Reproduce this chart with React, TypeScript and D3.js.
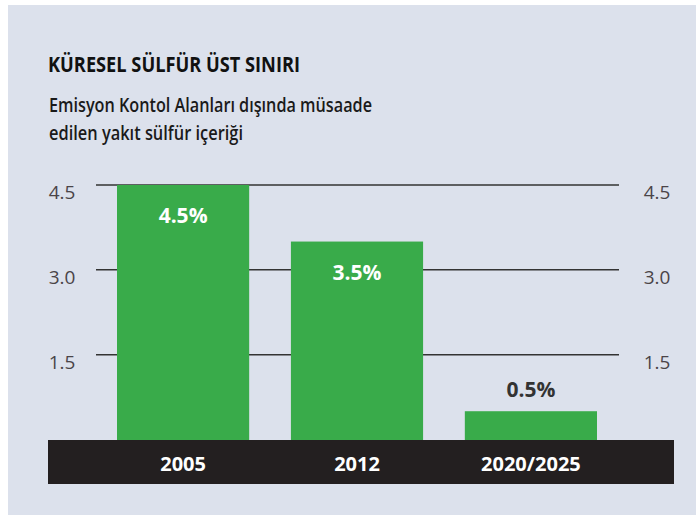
import React from "react";
import * as d3 from "d3";

const categories = ["2005", "2012", "2020/2025"];
const values = [4.5, 3.5, 0.5];
const valueLabels = ["4.5%", "3.5%", "0.5%"];
const ticks = [1.5, 3.0, 4.5];
const titleText = "KÜRESEL SÜLFÜR ÜST SINIRI";
const subtitleLines = ["Emisyon Kontol Alanları dışında müsaade", "edilen yakıt sülfür içeriği"];

const W = 696;
const H = 515;
const GREEN = "#39ab4a";
const BG = "#dce1ec";
const FONT = "'Open Sans', 'DejaVu Sans', sans-serif";

export default function App() {
  const x = d3.scaleBand<string>().domain(categories).range([117, 597]).paddingInner(0.24).paddingOuter(0);
  const y = d3.scaleLinear().domain([0, 4.5]).range([439.5, 185]);
  const bw = x.bandwidth();

  return (
    <svg width={W} height={H} style={{ position: "fixed", left: 0, top: 0 }} fontFamily={FONT}>
      <rect x={0} y={0} width={W} height={H} fill="#ffffff" />
      <rect x={8} y={5} width={W - 8} height={H - 5} fill={BG} />

      <text x={48} y={72} fontSize={22} fontWeight={700} fill="#111" textLength={252} lengthAdjust="spacingAndGlyphs">
        {titleText}
      </text>
      <text x={49} y={112} fontSize={20} fontWeight={600} fill="#1a1a1a" textLength={323} lengthAdjust="spacingAndGlyphs">
        {subtitleLines[0]}
      </text>
      <text x={49} y={140} fontSize={20} fontWeight={600} fill="#1a1a1a" textLength={194} lengthAdjust="spacingAndGlyphs">
        {subtitleLines[1]}
      </text>

      {ticks.map((t) => (
        <g key={t}>
          <line x1={96} x2={619} y1={y(t)} y2={y(t)} stroke="#333" strokeWidth={1.5} />
          <text x={62} y={y(t) + 14} fontSize={19} fill="#4a4448" textAnchor="middle">
            {d3.format(".1f")(t)}
          </text>
          <text x={657} y={y(t) + 14} fontSize={19} fill="#4a4448" textAnchor="middle">
            {d3.format(".1f")(t)}
          </text>
        </g>
      ))}

      {categories.map((c, i) => {
        const x0 = x(c)!;
        const top = y(values[i]);
        const inside = values[i] > 1;
        return (
          <g key={c}>
            <rect x={x0} y={top} width={bw} height={y(0) - top + 1} fill={GREEN} />
            <text
              x={x0 + bw / 2}
              y={inside ? top + 38 : top - 14}
              fontSize={21}
              fontWeight={700}
              fill={inside ? "#ffffff" : "#333333"}
              textAnchor="middle"
            >
              {valueLabels[i]}
            </text>
          </g>
        );
      })}

      <rect x={48} y={440} width={626} height={44} fill="#231f20" />
      {categories.map((c) => (
        <text key={c} x={x(c)! + bw / 2} y={471} fontSize={20} fontWeight={700} fill="#ffffff" textAnchor="middle">
          {c}
        </text>
      ))}
    </svg>
  );
}
